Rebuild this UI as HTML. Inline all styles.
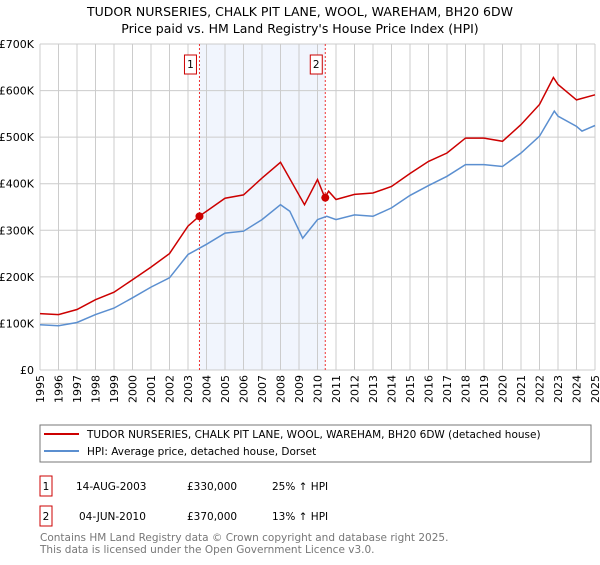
<!DOCTYPE html>
<html><head><meta charset="utf-8"><style>
body{margin:0;background:#fff;font-family:"Liberation Sans","DejaVu Sans",sans-serif;}
svg text{font-family:"DejaVu Sans","Liberation Sans",sans-serif;}
</style></head><body>
<svg id="c" width="600" height="560" viewBox="0 0 600 560" xmlns="http://www.w3.org/2000/svg">
<text x="300" y="16" text-anchor="middle" font-size="12.5" fill="#000">TUDOR NURSERIES, CHALK PIT LANE, WOOL, WAREHAM, BH20 6DW</text>
<text x="300" y="33" text-anchor="middle" font-size="12.5" fill="#000">Price paid vs. HM Land Registry's House Price Index (HPI)</text>
<g id="plot"></g>
<rect x="40" y="425" width="551" height="37" fill="#fff" stroke="#777"/>
<line x1="44" y1="434" x2="79" y2="434" stroke="#cc0000" stroke-width="2"/>
<text x="87" y="438" font-size="10.5">TUDOR NURSERIES, CHALK PIT LANE, WOOL, WAREHAM, BH20 6DW (detached house)</text>
<line x1="44" y1="451" x2="79" y2="451" stroke="#5b8fd0" stroke-width="2"/>
<text x="87" y="455" font-size="10.5">HPI: Average price, detached house, Dorset</text>
<rect x="40" y="476" width="12" height="20" fill="#fff" stroke="#cc0000"/>
<text x="46" y="490" font-size="10.5" text-anchor="middle">1</text>
<text x="76" y="490" font-size="10.5">14-AUG-2003</text>
<text x="187" y="490" font-size="10.5">£330,000</text>
<text x="272" y="490" font-size="10.5">25% ↑ HPI</text>
<rect x="40" y="506" width="12" height="20" fill="#fff" stroke="#cc0000"/>
<text x="46" y="520" font-size="10.5" text-anchor="middle">2</text>
<text x="79" y="520" font-size="10.5">04-JUN-2010</text>
<text x="187" y="520" font-size="10.5">£370,000</text>
<text x="272" y="520" font-size="10.5">13% ↑ HPI</text>
<text x="40" y="541" font-size="10.5" fill="#777">Contains HM Land Registry data © Crown copyright and database right 2025.</text>
<text x="40" y="553" font-size="10.5" fill="#777">This data is licensed under the Open Government Licence v3.0.</text>
</svg>
<script>
const years=[1995,1996,1997,1998,1999,2000,2001,2002,2003,2004,2005,2006,2007,2008,2009,2010,2011,2012,2013,2014,2015,2016,2017,2018,2019,2020,2021,2022,2023,2024,2025];
const yTicks=[0,100000,200000,300000,400000,500000,600000,700000];
const yTickLabels=["£0","£100K","£200K","£300K","£400K","£500K","£600K","£700K"];
const hpiDates=[1995,1996,1997,1998,1999,2000,2001,2002,2003,2004,2005,2006,2007,2008,2008.5,2009.2,2010,2010.5,2011,2012,2013,2014,2015,2016,2017,2018,2019,2020,2021,2022,2022.8,2023,2024,2024.3,2025];
const hpiValues=[97000,95000,102000,119000,133000,155000,178000,198000,248000,270000,294000,298000,323000,355000,341000,283000,323000,330000,323000,333000,330000,348000,375000,396000,416000,441000,441000,437000,466000,502000,556000,545000,523000,513000,525000];
const propDates=[1995,1996,1997,1998,1999,2000,2001,2002,2003,2003.6,2004,2005,2006,2007,2008,2009.3,2010,2010.4,2010.6,2011,2012,2013,2014,2015,2016,2017,2018,2019,2020,2021,2022,2022.75,2023,2024,2025];
const propValues=[121000,119000,130000,151000,167000,194000,221000,250000,309000,330000,341000,369000,376000,412000,446000,355000,409000,370000,384000,366000,377000,380000,394000,422000,448000,466000,498000,498000,491000,527000,570000,628000,613000,580000,591000];
const saleDates=[2003.62,2010.42];
const saleValues=[330000,370000];
const saleLabels=["1","2"];

const X0=40,X1=595,Y0=370,Y1=44;
const xs=y=>X0+(y-1995)/(2025-1995)*(X1-X0);
const ys=v=>Y0-v/700000*(Y0-Y1);
const NS="http://www.w3.org/2000/svg";
const g=document.getElementById('plot');
function mk(t,a){const e=document.createElementNS(NS,t);for(const k in a)e.setAttribute(k,a[k]);g.appendChild(e);return e;}
let e=mk('rect',{x:xs(saleDates[0]),y:Y1,width:xs(saleDates[1])-xs(saleDates[0]),height:Y0-Y1,fill:'#eef3fc',opacity:0.8});


years.forEach(y=>{
 const l=mk('line',{x1:xs(y),x2:xs(y),y1:Y1,y2:Y0,stroke:'#ccc','stroke-width':1});
 
 
 const t=mk('text',{x:0,y:0,'font-size':11,'text-anchor':'end',transform:`translate(${xs(y)+4},${Y0+5}) rotate(-90)`});
 t.textContent=y;
 
 
});
yTicks.forEach((v,i)=>{
 const l=mk('line',{x1:X0,x2:X1,y1:ys(v),y2:ys(v),stroke:'#ccc','stroke-width':1});
 
 
 const t=mk('text',{x:X0-6,y:ys(v)+4,'font-size':11,'text-anchor':'end'});
 t.textContent=yTickLabels[i];
 
 
});
saleDates.forEach((d,i)=>{
 const l=mk('line',{x1:xs(d),x2:xs(d),y1:Y1,y2:Y0,stroke:'#e33','stroke-width':1,'stroke-dasharray':'2,2'});
 
 
 const r=mk('rect',{x:xs(d)-15,y:55,width:12,height:19,fill:'#fff',stroke:'#cc0000'});
 
 
 const t=mk('text',{x:xs(d)-9,y:68,'font-size':10.5,'text-anchor':'middle'});
 t.textContent=saleLabels[i];
 
 
});
const pts=(ds,vs)=>ds.map((d,i)=>xs(d).toFixed(1)+','+ys(vs[i]).toFixed(1)).join(' ');
e=mk('polyline',{points:pts(hpiDates,hpiValues),fill:'none',stroke:'#5b8fd0','stroke-width':1.5});


e=mk('polyline',{points:pts(propDates,propValues),fill:'none',stroke:'#cc0000','stroke-width':1.5});


saleDates.forEach((d,i)=>{
 const c=mk('circle',{cx:xs(d),cy:ys(saleValues[i]),r:4,fill:'#cc0000'});
 
 
});
</script>
</body></html>
